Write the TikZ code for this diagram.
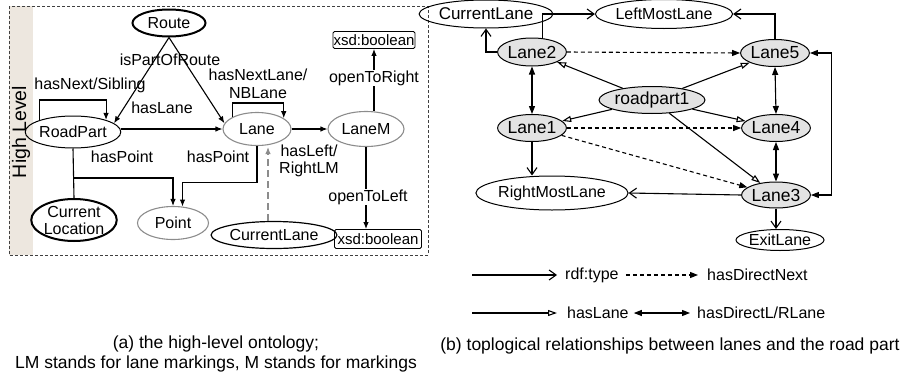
\documentclass[tikz,border=0pt]{standalone}
\usepackage{fontspec}
\setmainfont{Liberation Sans}
\usetikzlibrary{shapes.geometric,arrows.meta,calc}
\definecolor{ngray}{HTML}{8C8C8C}
\definecolor{lfill}{HTML}{E3E3E3}
\definecolor{stripc}{HTML}{EDE7DF}
\begin{document}
\begin{tikzpicture}[x=1pt,y=-1pt,
  every node/.style={font=\fontsize{16}{19}\selectfont, inner sep=0pt},
  sz/.style 2 args={minimum width=#1pt, minimum height=#2pt},
  ell/.style={ellipse, draw, line width=1pt},
  tell/.style={ellipse, draw, line width=2pt},
  gell/.style={ellipse, draw=ngray, line width=1.1pt},
  lell/.style={ellipse, draw, fill=lfill, line width=1pt, font=\fontsize{17.5}{20}\selectfont},
  xsd/.style={rectangle, draw, rounded corners=1.5pt, line width=0.8pt, font=\fontsize{15}{18}\selectfont},
  lbl/.style={font=\fontsize{16}{18}\selectfont, align=center},
  arr/.style={line width=1.1pt, -{Latex[length=7pt,width=5.5pt]}},
  ln/.style={line width=1.1pt},
  dasharr/.style={line width=1.1pt, draw=ngray, dash pattern=on 7pt off 4pt, -{Latex[length=7pt,width=5.5pt]}},
  typearr/.style={line width=1.1pt, -{Straight Barb[length=7pt,width=10pt]}},
  lanearr/.style={line width=1.1pt, -{Triangle[open,length=9pt,width=6pt]}},
  nextarr/.style={line width=1.1pt, dash pattern=on 4pt off 3pt, -{Triangle[length=8pt,width=6pt]}},
  lrarr/.style={line width=1.1pt, {Triangle[length=8pt,width=6pt]}-{Triangle[length=8pt,width=6pt]}},
  captext/.style={font=\fontsize{17.5}{20}\selectfont, align=center}
]
\useasboundingbox (0,0) rectangle (902,375);
% ---------- left panel ----------
\fill[stripc] (9,6) rectangle (33,255);
\draw[line width=0.7pt, draw=black!75, dash pattern=on 3pt off 2pt] (9,6) rectangle (428,255);
\node[rotate=90, font=\fontsize{19.5}{22}\selectfont] (hl) at (21,132) {High Level};

\node[tell, sz={73}{27}] (route) at (169,23) {Route};
\node[ell, sz={80}{32}] (roadpart) at (73,132) {RoadPart};
\node[gell, sz={68}{33}] (lane) at (257,129) {Lane};
\node[gell, sz={76}{35}] (lanem) at (366,129) {LaneM};
\node[tell, sz={77}{42}, align=center, font=\fontsize{16}{17}\selectfont] (curloc) at (74,220) {Current\\Location};
\node[gell, sz={71}{33}] (point) at (173,223) {Point};
\node[ell, sz={88}{27}, line width=1.2pt] (curlane) at (274,235) {CurrentLane};
\node[xsd, sz={82}{17}] (xsdt) at (374,40) {xsd:boolean};
\node[xsd, sz={87}{19}] (xsdb) at (378,239) {xsd:boolean};

\draw[arr] (route.south) -- (roadpart.12);
\draw[arr] (route.south) -- (lane.170);
\node[lbl] (lpr) at (170,60) {isPartOfRoute};
\node[lbl] (lhl) at (162,108) {hasLane};
\draw[arr] (roadpart.160) -- ++(0,-20) -| (roadpart.20);
\node[lbl] (lns) at (90,85) {hasNext/Sibling};
\draw[arr] (roadpart.east |- lane.west) -- (lane.west);
\draw[arr] (lane.154) -- ++(0,-14) -| (lane.22);
\node[lbl, font=\fontsize{16}{18}\selectfont] (lnl) at (258,84) {hasNextLane/\\NBLane};
\draw[arr] (lane.east) -- (lanem.west);
\node[lbl, font=\fontsize{16}{17}\selectfont] (llr) at (309,161) {hasLeft/\\RightLM};
\draw[arr] (xsdt.south |- lanem.north) -- (xsdt.south);
\node[lbl, fill=white, inner sep=1pt] (lor) at (374,78) {openToRight};
\draw[arr] (lanem.south) -- (lanem.south |- xsdb.north);
\node[lbl, fill=white, inner sep=1pt] (lol) at (368,197) {openToLeft};
\coordinate (rpb) at (73,178);
\draw[ln] (roadpart.south) -- (curloc.north);
\draw[arr] (rpb) -| (point.north);
\draw[arr] (lane.south) -- ++(0,36) -| (point.60);
\node[lbl] (lhp1) at (122,157) {hasPoint};
\node[lbl] (lhp2) at (218,157) {hasPoint};
\draw[dasharr] ($(curlane.north)+(-6,0)$) -- ($(lane.south)+(11,1)$);

% ---------- right panel ----------
\node[ell, sz={101}{28}, font=\fontsize{17}{20}\selectfont] (cl2) at (486,14) {CurrentLane};
\node[ell, sz={126}{29}] (lml) at (664,14) {LeftMostLane};
\node[lell, sz={57}{28}] (l2) at (532,52) {Lane2};
\node[lell, sz={49}{27}] (l5) at (775,53) {Lane5};
\node[lell, sz={77}{27}] (rp1) at (652,100) {roadpart1};
\node[lell, sz={60}{27}] (l1) at (532,128) {Lane1};
\node[lell, sz={51}{27}] (l4) at (776,128) {Lane4};
\node[ell, sz={123}{34}] (rml) at (552,193) {RightMostLane};
\node[lell, sz={56}{26}] (l3) at (776,195) {Lane3};
\node[ell, sz={71}{21}] (exit) at (780,240) {ExitLane};

\draw[typearr] (l2.west) -| (cl2.south);
\draw[typearr] (l2.53) |- (lml.west);
\draw[typearr] (l5.north) |- (lml.east);
\draw[nextarr] (l2.east) -- (l5.west);
\draw[lanearr] (rp1) -- (l2);
\draw[lanearr] (rp1) -- (l5);
\draw[lanearr] (rp1) -- (l1);
\draw[lanearr] (rp1) -- (l4);
\draw[lanearr] (rp1) -- (l3);
\draw[lrarr] (l2.south) -- (l1.north);
\draw[lrarr] (l5.south) -- (l4.north);
\draw[lrarr] (l4.south) -- (l3.north);
\draw[nextarr] (l1.east) -- (l4.west);
\draw[nextarr] (l1.-14) -- (l3.165);
\draw[typearr] (l1.south) -- (rml.north -| l1.south);
\draw[typearr] (l3.west) -- (rml.east);
\draw[typearr] (l3.south) -- (l3.south |- exit.north);
\draw[lrarr] (l5.east) -- ++(22,0) |- (l3.east);

% ---------- legend ----------
\coordinate (g1) at (472,275);
\coordinate (g2) at (472,313);
\node[anchor=west] (trdf) at (565,275) {rdf:type};
\node[anchor=west] (thdn) at (707,275) {hasDirectNext};
\node[anchor=west] (thl) at (567,313) {hasLane};
\node[anchor=west] (thlr) at (697,313) {hasDirectL/RLane};
\draw[typearr] (g1) -- ($(trdf.west)+(-8,0)$);
\draw[nextarr] ($(trdf.east)+(7,0)$) -- ($(thdn.west)+(-9,0)$);
\draw[lanearr] (g2) -- ($(thl.west)+(-10,0)$);
\draw[lrarr] ($(thl.east)+(5,0)$) -- ($(thlr.west)+(-7,0)$);

% ---------- captions ----------
\node[captext] (capa) at (216,354) {(a) the high-level ontology;\\LM stands for lane markings, M stands for markings};
\node[captext] (capb) at (670,346) {(b) toplogical relationships between lanes and the road part};
\end{tikzpicture}
\end{document}
